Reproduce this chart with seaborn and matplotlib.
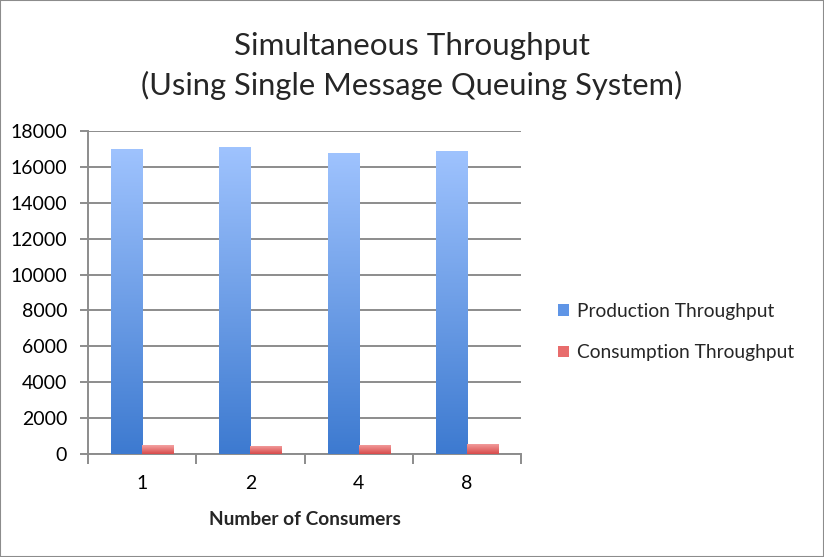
import numpy as np
import pandas as pd
import matplotlib
matplotlib.use('Agg')
import matplotlib.pyplot as plt
import seaborn as sns
from matplotlib.colors import LinearSegmentedColormap
from matplotlib.patches import Rectangle, Patch

consumers = ['1', '2', '4', '8']
production = [17000, 17100, 16800, 16900]
consumption = [500, 450, 520, 560]
series_names = ['Production Throughput', 'Consumption Throughput']
y_ticks = list(range(0, 18001, 2000))

df = pd.DataFrame({
    'consumers': consumers * 2,
    'throughput': production + consumption,
    'series': [series_names[0]] * 4 + [series_names[1]] * 4,
})

sns.set_theme(style='white')
plt.rcParams['font.family'] = ['Lato', 'DejaVu Sans']

fig = plt.figure(figsize=(8.24, 5.57), dpi=100)
ax = fig.add_axes([88 / 824, 1 - 454 / 557, (521 - 88) / 824, (454 - 131) / 557])

pal = {series_names[0]: '#5f95e6', series_names[1]: '#e86c6c'}
sns.barplot(data=df, x='consumers', y='throughput', hue='series', order=consumers,
            hue_order=series_names, palette=pal, width=0.575, gap=0,
            ax=ax, legend=False, saturation=1, zorder=3)

# gradient fill for bars, light at top
cmaps = {
    series_names[0]: LinearSegmentedColormap.from_list('b', ['#3d7ad0', '#9fc3fe']),
    series_names[1]: LinearSegmentedColormap.from_list('r', ['#d84a4a', '#f4a3a3']),
}
grad = np.linspace(0, 1, 256).reshape(-1, 1)
bars = list(ax.patches)
for i, p in enumerate(bars):
    name = series_names[0] if i < len(consumers) else series_names[1]
    x0, y0 = p.get_x(), p.get_y()
    w, h = p.get_width(), p.get_height()
    im = ax.imshow(grad, extent=[x0, x0 + w, y0, y0 + h], origin='lower',
                   aspect='auto', cmap=cmaps[name], zorder=3)
    im.set_clip_path(p)
    p.set_facecolor('none')
    p.set_edgecolor('none')

ax.set_xlim(-0.5, len(consumers) - 0.5)
ax.set_ylim(0, 18000)
ax.set_yticks(y_ticks)
ax.set_yticklabels([str(v) for v in y_ticks])
ax.set_xticks(range(len(consumers)))
ax.set_xticklabels(consumers)
ax.set_xticks(np.arange(-0.5, len(consumers), 1.0), minor=True)

ax.yaxis.grid(True, color='#8c8c8c', linewidth=1.4, zorder=0)
ax.set_axisbelow(True)
for s in ['top', 'right']:
    ax.spines[s].set_visible(False)
for s in ['left', 'bottom']:
    ax.spines[s].set_color('#8c8c8c')
    ax.spines[s].set_linewidth(1.4)

ax.tick_params(axis='y', which='major', length=6, width=1.4, color='#8c8c8c',
               direction='out', left=True, labelsize=14, pad=9, labelcolor='black')
ax.tick_params(axis='x', which='major', length=0, labelsize=14, pad=15, labelcolor='black')
ax.tick_params(axis='x', which='minor', length=7, width=1.4, color='#8c8c8c',
               direction='out', bottom=True)

ax.set_ylabel('')
ax.set_xlabel('Number of Consumers', fontsize=13.8, fontweight='bold', labelpad=13.5)

fig.text(0.5, 1 - 55 / 557, 'Simultaneous Throughput', ha='center', va='baseline', fontsize=22.6)
fig.text(0.5, 1 - 95 / 557, '(Using Single Message Queuing System)', ha='center',
         va='baseline', fontsize=22.2)

handles = [Patch(facecolor='#5f95e6', edgecolor='none'),
           Patch(facecolor='#e86c6c', edgecolor='none')]
fig.legend(handles, series_names, loc='center left', bbox_to_anchor=(541 / 824, 1 - 332 / 557),
           frameon=False, fontsize=13.8, handlelength=0.55, handleheight=0.55,
           handletextpad=0.45, labelspacing=1.3)

fig.patches.append(Rectangle((0, 0), 1, 1, transform=fig.transFigure, fill=False,
                             edgecolor='#8c8c8c', linewidth=1.5))

fig.savefig('out.png', dpi=100, facecolor='white')
